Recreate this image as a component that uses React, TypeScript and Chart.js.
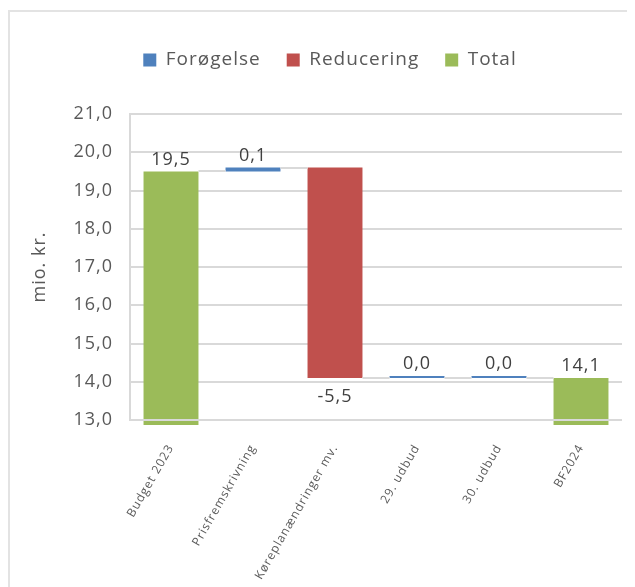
import React, { useEffect, useRef } from "react";
import { Chart, registerables } from "chart.js";

Chart.register(...registerables);

const categories = [
  "Budget 2023",
  "Prisfremskrivning",
  "Køreplanændringer mv.",
  "29. udbud",
  "30. udbud",
  "BF2024",
];
const changes = [19.5, 0.1, -5.5, 0.0, 0.0, 14.1];
const kinds = ["total", "up", "down", "up", "up", "total"];
const seriesKeys = ["up", "down", "total"];
const seriesNames = ["Forøgelse", "Reducering", "Total"];
const seriesColors = ["#4f81bd", "#c0504d", "#9bbb59"];
const yMin = 13;
const yMax = 21;
const yStep = 1;

const FONT = "'Open Sans', sans-serif";
const GRID = "#d9d9d9";
const fmt = (v: number) => v.toFixed(1).replace(".", ",");

function buildRanges() {
  const ranges: [number, number][] = [];
  const levels: number[] = [];
  let running = 0;
  changes.forEach((c, i) => {
    if (kinds[i] === "total") {
      ranges.push([yMin, c]);
      running = c;
    } else {
      const start = running;
      const end = running + c;
      ranges.push([Math.min(start, end), Math.max(start, end)]);
      running = end;
    }
    levels.push(running);
  });
  return { ranges, levels };
}

export default function App() {
  const ref = useRef<HTMLCanvasElement>(null);
  useEffect(() => {
    if (!ref.current) return;
    const { ranges, levels } = buildRanges();
    const datasets = seriesKeys.map((key, d) => ({
      label: seriesNames[d],
      data: categories.map((_, i) => (kinds[i] === key ? ranges[i] : null)) as any,
      backgroundColor: seriesColors[d],
      borderWidth: 0,
      minBarLength: key === "up" ? 2 : 0,
      barPercentage: 0.67,
      categoryPercentage: 1,
      clip: false as any,
    }));

    const findEl = (chart: any, i: number) => {
      for (let d = 0; d < datasets.length; d++) {
        if (datasets[d].data[i] != null) return chart.getDatasetMeta(d).data[i];
      }
      return null;
    };

    const spacing = {
      id: "spacing",
      beforeUpdate(chart: any) {
        chart.ctx.letterSpacing = "1px";
      },
      beforeDraw(chart: any) {
        chart.ctx.letterSpacing = "1px";
      },
    };

    const legendMargin = {
      id: "legendMargin",
      beforeInit(chart: any) {
        const orig = chart.legend.fit;
        chart.legend.fit = function () {
          orig.bind(chart.legend)();
          this.height += 34.5;
        };
      },
    };

    const hrule = (ctx: any, x1: number, x2: number, py: number) => {
      ctx.fillRect(x1, Math.round(py) - 1, x2 - x1, 2);
    };

    const waterfall = {
      id: "waterfall",
      beforeDatasetsDraw(chart: any) {
        const y = chart.scales.y;
        const bottom = y.getPixelForValue(yMin);
        const meta = chart.getDatasetMeta(2);
        meta.data.forEach((el: any, i: number) => {
          if (datasets[2].data[i] != null) el.base = bottom + 5;
        });
      },
      afterDatasetsDraw(chart: any) {
        const ctx = chart.ctx;
        const y = chart.scales.y;
        const { left, right } = chart.chartArea;
        ctx.save();
        ctx.fillStyle = GRID;
        hrule(ctx, left, right, y.getPixelForValue(yMin));
        for (let i = 0; i < categories.length - 1; i++) {
          const a = findEl(chart, i);
          const b = findEl(chart, i + 1);
          if (!a || !b) continue;
          hrule(ctx, a.x + a.width / 2, b.x - b.width / 2, y.getPixelForValue(levels[i]));
        }
        ctx.fillStyle = "#404040";
        ctx.font = `18px ${FONT}`;
        ctx.textAlign = "center";
        for (let i = 0; i < categories.length; i++) {
          const el = findEl(chart, i);
          if (!el) continue;
          const top = Math.min(el.y, el.base);
          const bot = Math.max(el.y, el.base);
          const txt = fmt(changes[i]);
          if (kinds[i] === "down") {
            ctx.textBaseline = "top";
            ctx.fillText(txt, el.x, bot + 10);
          } else {
            ctx.textBaseline = "bottom";
            ctx.fillText(txt, el.x, top - 3);
          }
        }
        ctx.restore();
      },
    };

    const chart = new Chart(ref.current, {
      type: "bar",
      data: { labels: categories, datasets },
      plugins: [spacing, legendMargin, waterfall],
      options: {
        responsive: false,
        animation: false,
        layout: { padding: { left: 28, right: 13, top: 12.5, bottom: 0 } },
        plugins: {
          legend: {
            position: "top",
            labels: {
              boxWidth: 13,
              boxHeight: 13,
              padding: 26,
              color: "#595959",
              font: { family: FONT, size: 19 },
            },
          },
          tooltip: { enabled: false },
        },
        scales: {
          x: {
            stacked: true,
            grid: { display: false, drawTicks: false },
            border: { display: false },
            ticks: {
              autoSkip: false,
              minRotation: 60,
              maxRotation: 60,
              padding: 22,
              color: "#595959",
              font: { family: FONT, size: 12 },
            },
            afterFit(scale: any) {
              scale.height = 167;
            },
          },
          y: {
            min: yMin,
            max: yMax,
            grid: { color: GRID, lineWidth: 2, drawTicks: false },
            border: { display: true, color: GRID, width: 2 },
            ticks: {
              stepSize: yStep,
              padding: 17,
              color: "#595959",
              font: { family: FONT, size: 18 },
              callback: (v: any) => fmt(Number(v)),
            },
            title: {
              display: true,
              text: "mio. kr.",
              color: "#595959",
              font: { family: FONT, size: 18 },
              padding: { top: -8.8, bottom: 0 },
            },
            afterFit(scale: any) {
              scale.width = 92;
            },
          },
        },
      },
    });
    return () => chart.destroy();
  }, []);

  return (
    <div style={{ width: 627, height: 579, overflow: "hidden" }}>
      <div
        style={{
          marginTop: 2,
          border: "2px solid #e3e3e3",
          width: 700,
          height: 700,
          boxSizing: "border-box",
        }}
      >
        <canvas ref={ref} width={625} height={575} style={{ display: "block" }} />
      </div>
    </div>
  );
}
